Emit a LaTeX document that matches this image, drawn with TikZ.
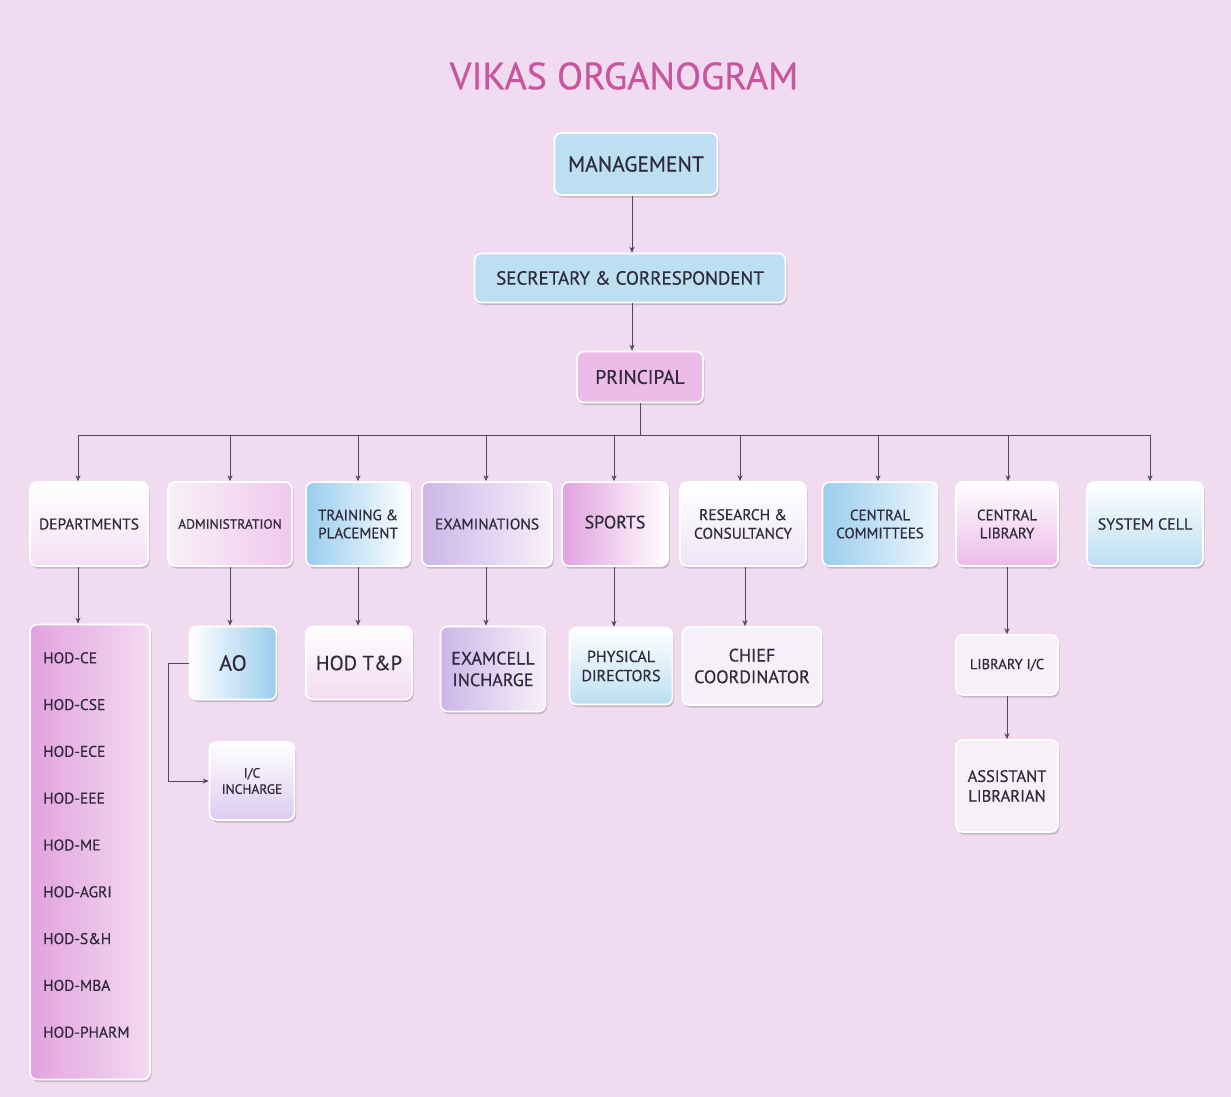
\documentclass[tikz,border=0pt]{standalone}
\usepackage{fontspec}
\newfontfamily\orgfont[FakeBold=0.5]{PT Sans}
\usetikzlibrary{shadows,arrows.meta}
\definecolor{bgpink}{HTML}{F0DBF1}
\definecolor{txt}{HTML}{2F2B3C}
\definecolor{titlec}{HTML}{C9559E}
\definecolor{lblue}{HTML}{BCDFF2}
\definecolor{mblue}{HTML}{9ACDEE}
\definecolor{lpink}{HTML}{EDBBE8}
\definecolor{mpink}{HTML}{E2A2DE}
\definecolor{lav}{HTML}{CCB6EA}
\definecolor{pale}{HTML}{F8F0F8}
\tikzset{
  box/.style={rounded corners=7pt, draw=white, line width=1.6pt, align=center,
    text=txt, inner sep=2pt,
    drop shadow={shadow xshift=1.5pt, shadow yshift=-2.5pt, opacity=0.3, fill=black!60}},
  conn/.style={draw=txt!85, line width=0.8pt, -{Stealth[length=6pt,width=5pt]}},
  plain/.style={draw=txt!85, line width=0.8pt},
}
\newcommand\fs[1]{\orgfont\fontsize{#1pt}{\dimexpr#1pt*6/5\relax}\selectfont}
\begin{document}
\begin{tikzpicture}[x=1pt,y=-1pt]
\fill[bgpink] (0,0) rectangle (1231,1097);
\useasboundingbox (0,0) rectangle (1231,1097);
% title
\node[text=titlec, font=\fs{38}] (title) at (624,76) {VIKAS ORGANOGRAM};
% top chain
\node[box, fill=lblue, minimum width=163pt, minimum height=62pt, font=\fs{21.5}] (mgmt) at (636,164) {MANAGEMENT};
\node[box, fill=lblue, minimum width=311pt, minimum height=49pt, font=\fs{19}] (sec) at (630,278) {SECRETARY \& CORRESPONDENT};
\node[box, fill=lpink, minimum width=126pt, minimum height=51pt, font=\fs{19.5}] (prin) at (640,377) {PRINCIPAL};
\draw[conn] ([xshift=-4pt]mgmt.south) -- ([xshift=2pt]sec.north);
\draw[conn] ([xshift=2pt]sec.south) -- ([xshift=-8pt]prin.north);
% bus
\coordinate (busL) at (78,435);
\coordinate (busR) at (1150,435);
\draw[plain] (prin.south) -- (prin.south |- busL);
\draw[plain] (busL) -- (busR);
% level 2
\tikzset{l2/.style={box, minimum height=84pt, font=\fs{15.5}}}
\node[l2, top color=white, bottom color=pale!70!lpink, minimum width=118pt] (dep) at (89,524) {DEPARTMENTS};
\node[l2, left color=pale, right color=lpink!80, minimum width=124pt, font=\fs{13.5}] (adm) at (230,524) {ADMINISTRATION};
\node[l2, left color=mblue, right color=white, minimum width=104pt, font=\fs{15}] (tp) at (358,524) {TRAINING \&\\PLACEMENT};
\node[l2, left color=lav, right color=pale, minimum width=130pt] (exm) at (487,524) {EXAMINATIONS};
\node[l2, left color=mpink, right color=white, minimum width=106pt, font=\fs{18}] (spt) at (615,524) {\raisebox{4pt}{SPORTS}};
\node[l2, top color=white, bottom color=lav!35!white, minimum width=126pt] (rc) at (743,524) {RESEARCH \&\\CONSULTANCY};
\node[l2, left color=mblue, right color=white!85!mblue, minimum width=115pt, font=\fs{15}] (cc) at (880,524) {CENTRAL\\COMMITTEES};
\node[l2, top color=white, bottom color=lpink, minimum width=102pt, font=\fs{15}] (cl) at (1007,524) {CENTRAL\\LIBRARY};
\node[l2, top color=white, bottom color=lblue, minimum width=116pt, font=\fs{16}] (sys) at (1145,524) {SYSTEM CELL};
\foreach \n/\x in {dep/78, adm/230, tp/358, exm/486, spt/614, rc/740, cc/878, cl/1008, sys/1150}
  \draw[conn] (\x,435) -- (\n.north -| \x,0);
% level 3
\node[box, left color=mpink, right color=pale!60!lpink, minimum width=120pt, minimum height=455pt] (hod) at (90,852) {};
\foreach \t [count=\i] in {HOD-CE,HOD-CSE,HOD-ECE,HOD-EEE,HOD-ME,HOD-AGRI,HOD-S\&H,HOD-MBA,HOD-PHARM}
  \node[anchor=west, text=txt, font=\fs{15.5}, inner sep=0pt] (h\i) at (43,{611+46.8*\i}) {\t};
\node[box, left color=white, right color=mblue, minimum width=87pt, minimum height=73pt, font=\fs{22}] (ao) at (233,663) {AO};
\node[box, top color=white, bottom color=pale!60!lpink, minimum width=106pt, minimum height=73pt, font=\fs{20.5}] (hodtp) at (359,663) {HOD T\&P};
\node[box, left color=lav, right color=pale, minimum width=105pt, minimum height=85pt, font=\fs{18}] (ecell) at (493,669) {EXAMCELL\\INCHARGE};
\node[box, top color=white, bottom color=lblue, minimum width=103pt, minimum height=77pt, font=\fs{16}] (phy) at (621,666) {PHYSICAL\\DIRECTORS};
\node[box, fill=pale, minimum width=139pt, minimum height=78pt, font=\fs{18}] (chief) at (752,666) {CHIEF\\COORDINATOR};
\node[box, fill=pale, minimum width=102pt, minimum height=60pt, font=\fs{14.5}] (libic) at (1007,665) {LIBRARY I/C};
\node[box, fill=pale, minimum width=102pt, minimum height=92pt, font=\fs{16.5}] (asst) at (1007,786) {ASSISTANT\\LIBRARIAN};
\node[box, top color=white, bottom color=lav!70!white, minimum width=85pt, minimum height=78pt, font=\fs{13.5}] (ic) at (252,781) {I/C\\INCHARGE};
% level 3 connectors
\draw[conn] ([xshift=-11pt]dep.south) -- ([xshift=-12pt]hod.north);
\draw[conn] (adm.south) -- ([xshift=-3pt]ao.north);
\draw[conn] (tp.south) -- ([xshift=-1pt]hodtp.north);
\draw[conn] ([xshift=-1pt]exm.south) -- ([xshift=-7pt]ecell.north);
\draw[conn] ([xshift=-1pt]spt.south) -- ([xshift=-7pt]phy.north);
\draw[conn] ([xshift=2pt]rc.south) -- ([xshift=-7pt]chief.north);
\draw[conn] (cl.south) -- (libic.north);
\draw[conn] (libic.south) -- (asst.north);
\coordinate (aoc) at (168,663);
\draw[conn] (ao.west) -- (aoc) |- (ic.west);
\end{tikzpicture}
\end{document}
